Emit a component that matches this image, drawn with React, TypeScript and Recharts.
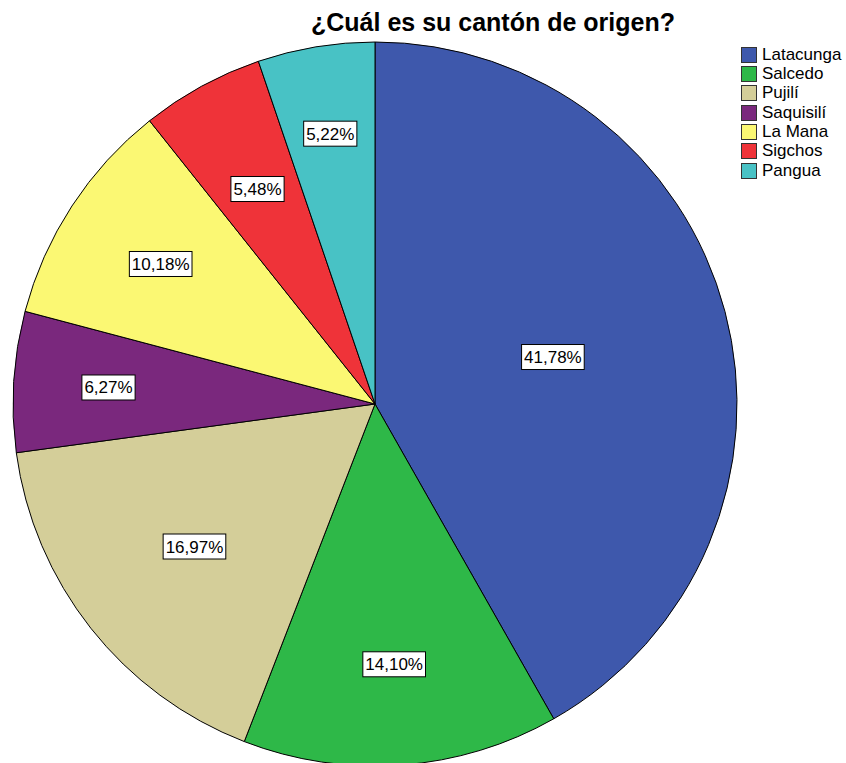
import { Cell, Legend, Pie, PieChart } from "recharts";

const CANTONES = ["Latacunga", "Salcedo", "Pujilí", "Saquisilí", "La Mana", "Sigchos", "Pangua"];
const PORCENTAJES = [41.78, 14.1, 16.97, 6.27, 10.18, 5.48, 5.22];

const COLORS = ["#3E58AC", "#2EB848", "#D4CE99", "#7A287D", "#FBF873", "#EF3339", "#48C2C5"];
// distance of each label box from the pie centre (px)
const LABEL_R = [184, 261, 230, 267, 256, 245, 274];

const FONT = "'Liberation Sans', Arial, sans-serif";
const RAD = Math.PI / 180;

const data = CANTONES.map((name, i) => ({ name, value: PORCENTAJES[i] }));

function fmt(v: number) {
  return v.toFixed(2).replace(".", ",") + "%";
}

function textWidth(s: string, size: number) {
  let w = 0;
  for (const ch of s) {
    if (ch === ",") w += 0.278;
    else if (ch === "%") w += 0.889;
    else w += 0.556;
  }
  return w * size;
}

function SliceLabel(props: any) {
  const { cx, cy, midAngle, index, value } = props;
  const r = LABEL_R[index];
  const x = cx + r * Math.cos(-midAngle * RAD);
  const y = cy + r * Math.sin(-midAngle * RAD);
  const txt = fmt(value);
  const w = textWidth(txt, 17) + 5;
  const h = 25;
  return (
    <g>
      <rect x={x - w / 2} y={y - h / 2} width={w} height={h} fill="#fff" stroke="#000" strokeWidth={1} />
      <text
        x={x}
        y={y + 6}
        textAnchor="middle"
        fontSize={17}
        fontFamily={FONT}
        fill="#000"
      >
        {txt}
      </text>
    </g>
  );
}

function LegendBox() {
  return (
    <div style={{ fontFamily: FONT, fontSize: 17, color: "#000" }}>
      {CANTONES.map((c, i) => (
        <div key={c} style={{ display: "flex", alignItems: "center", height: 19.33 }}>
          <span
            style={{
              display: "inline-block",
              width: 14,
              height: 14,
              background: COLORS[i],
              border: "1px solid #333",
              marginRight: 5,
            }}
          />
          <span>{c}</span>
        </div>
      ))}
    </div>
  );
}

export default function App() {
  return (
    <div style={{ position: "absolute", left: 0, top: 0, width: 846, height: 763, background: "#fff" }}>
      <div
        style={{
          position: "absolute",
          left: 493,
          top: 8,
          transform: "translateX(-50%)",
          fontFamily: FONT,
          fontWeight: "bold",
          fontSize: 25,
          whiteSpace: "nowrap",
          color: "#000",
        }}
      >
        ¿Cuál es su cantón de origen?
      </div>
      <PieChart width={846} height={763} margin={{ top: 0, right: 0, bottom: 0, left: 0 }}>
        <Pie
          data={data}
          dataKey="value"
          nameKey="name"
          cx={375}
          cy={404}
          outerRadius={362}
          startAngle={90}
          endAngle={-270}
          label={SliceLabel}
          labelLine={false}
          isAnimationActive={false}
        >
          {data.map((d, i) => (
            <Cell key={d.name} fill={COLORS[i]} stroke="#000" strokeWidth={1} />
          ))}
        </Pie>
        <Legend
          layout="vertical"
          align="right"
          verticalAlign="top"
          content={() => <LegendBox />}
          wrapperStyle={{ left: 741, top: 45, width: 105 }}
        />
      </PieChart>
    </div>
  );
}
